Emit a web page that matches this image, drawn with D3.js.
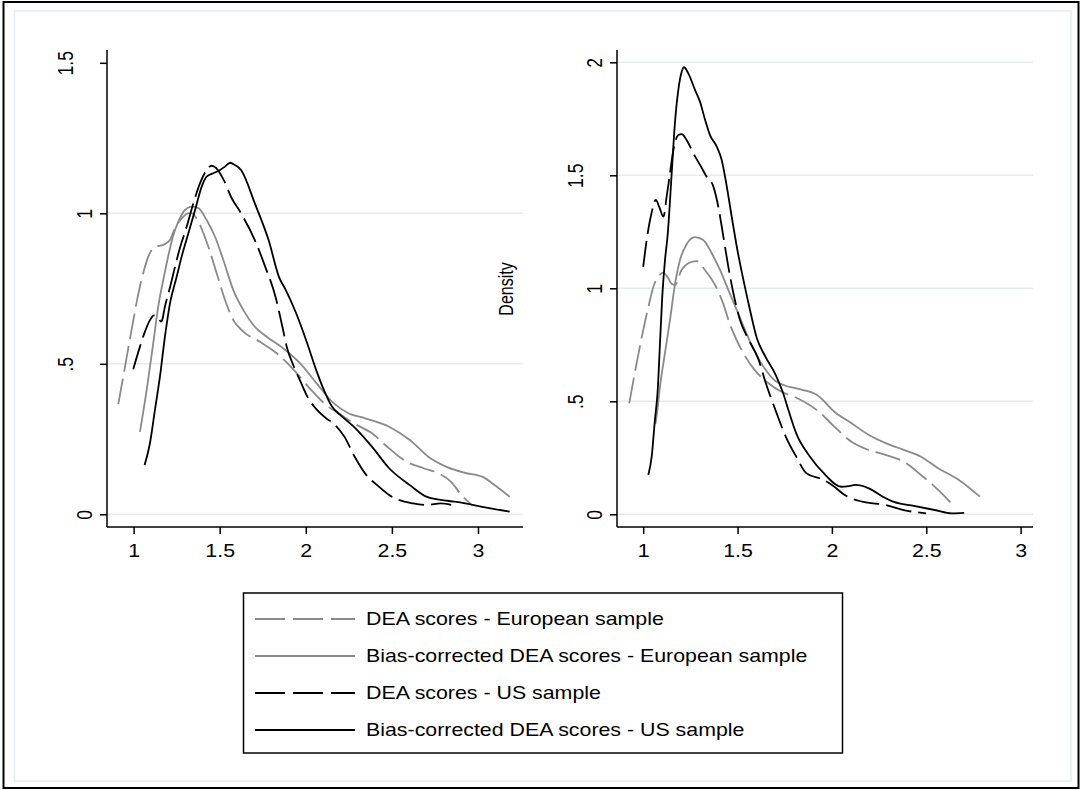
<!DOCTYPE html>
<html>
<head>
<meta charset="utf-8">
<script src="https://cdn.jsdelivr.net/npm/d3@7"></script>
<style>
  body { margin: 0; background: #fff; }
  svg { display: block; }
  text { font-family: "Liberation Sans", Arial, sans-serif; fill: #000; }
</style>
</head>
<body>
<svg id="chart" width="1083" height="790"></svg>
<script>
// ticks
var xTicks = [1, 1.5, 2, 2.5, 3];
var yTicksL = [0, 0.5, 1, 1.5];
var yTicksR = [0, 0.5, 1, 1.5, 2];
var gridL = [0, 0.5, 1];
var gridR = [0, 0.5, 1, 1.5, 2];

var seriesNames = ["DEA scores - European sample",
                   "Bias-corrected DEA scores - European sample",
                   "DEA scores - US sample",
                   "Bias-corrected DEA scores - US sample"];

// left panel: [score, density]
var euDeaL = [[0.911,0.366],[0.95,0.49],[0.989,0.615],[1.028,0.734],[1.06,0.81],[1.085,0.856],[1.11,0.882],[1.13,0.889],[1.172,0.895],[1.211,0.911],[1.24,0.95],[1.279,0.983],[1.318,1.0],[1.34,1.0],[1.357,0.99],[1.386,0.961],[1.434,0.889],[1.483,0.80],[1.531,0.712],[1.579,0.645],[1.637,0.607],[1.734,0.573],[1.831,0.535],[1.93,0.48],[2.02,0.42],[2.12,0.362],[2.2,0.332],[2.28,0.302],[2.384,0.269],[2.484,0.219],[2.584,0.175],[2.684,0.153],[2.764,0.138],[2.844,0.108],[2.904,0.064],[2.964,0.031]];
var euBcL = [[1.037,0.274],[1.076,0.413],[1.114,0.568],[1.143,0.69],[1.172,0.778],[1.2,0.855],[1.231,0.928],[1.26,0.972],[1.298,1.011],[1.337,1.022],[1.376,1.017],[1.424,0.978],[1.473,0.922],[1.521,0.845],[1.579,0.745],[1.637,0.679],[1.695,0.629],[1.773,0.59],[1.87,0.551],[1.966,0.502],[2.063,0.435],[2.16,0.37],[2.25,0.335],[2.344,0.319],[2.484,0.291],[2.604,0.247],[2.724,0.186],[2.824,0.156],[2.924,0.138],[3.024,0.125],[3.104,0.094],[3.184,0.058]];
var usDeaL = [[0.998,0.482],[1.037,0.557],[1.066,0.607],[1.095,0.645],[1.118,0.661],[1.143,0.654],[1.159,0.64],[1.166,0.645],[1.18,0.685],[1.215,0.762],[1.231,0.80],[1.269,0.885],[1.308,0.955],[1.347,1.033],[1.386,1.10],[1.424,1.144],[1.453,1.158],[1.48,1.15],[1.505,1.13],[1.524,1.11],[1.57,1.05],[1.624,1.0],[1.704,0.911],[1.764,0.823],[1.824,0.723],[1.864,0.623],[1.89,0.555],[1.924,0.50],[1.97,0.44],[2.01,0.39],[2.06,0.35],[2.12,0.318],[2.164,0.30],[2.224,0.258],[2.284,0.191],[2.344,0.136],[2.424,0.092],[2.484,0.064],[2.624,0.036],[2.704,0.031],[2.784,0.036],[2.844,0.031]];
var usBcL = [[1.064,0.164],[1.095,0.236],[1.124,0.347],[1.153,0.457],[1.182,0.59],[1.211,0.70],[1.25,0.789],[1.279,0.856],[1.318,0.934],[1.357,1.011],[1.395,1.088],[1.424,1.122],[1.463,1.133],[1.502,1.144],[1.531,1.155],[1.56,1.168],[1.59,1.16],[1.624,1.144],[1.704,1.033],[1.784,0.911],[1.844,0.789],[1.884,0.745],[1.944,0.668],[2.004,0.575],[2.06,0.48],[2.1,0.42],[2.15,0.36],[2.2,0.33],[2.29,0.285],[2.384,0.225],[2.484,0.153],[2.604,0.097],[2.704,0.058],[2.824,0.045],[2.904,0.039],[3.024,0.025],[3.184,0.009]];

// right panel: [score, density]
var euDeaR = [[0.926,0.491],[0.965,0.668],[1.0,0.815],[1.036,0.948],[1.054,1.007],[1.08,1.051],[1.106,1.069],[1.133,1.044],[1.15,1.02],[1.168,1.015],[1.203,1.081],[1.239,1.111],[1.283,1.12],[1.327,1.081],[1.39,1.0],[1.425,0.93],[1.46,0.84],[1.496,0.77],[1.54,0.70],[1.591,0.638],[1.664,0.58],[1.738,0.54],[1.8,0.52],[1.848,0.50],[1.921,0.461],[2.013,0.388],[2.104,0.321],[2.196,0.284],[2.288,0.262],[2.38,0.233],[2.472,0.174],[2.563,0.108],[2.646,0.037]];
var euBcR = [[1.065,0.40],[1.075,0.46],[1.089,0.565],[1.115,0.712],[1.142,0.86],[1.168,1.015],[1.195,1.125],[1.23,1.195],[1.274,1.226],[1.318,1.214],[1.363,1.155],[1.407,1.081],[1.451,0.993],[1.496,0.904],[1.54,0.815],[1.591,0.72],[1.64,0.65],[1.701,0.59],[1.75,0.57],[1.811,0.557],[1.921,0.528],[2.013,0.454],[2.104,0.403],[2.196,0.351],[2.288,0.314],[2.38,0.285],[2.472,0.255],[2.563,0.204],[2.673,0.152],[2.784,0.078]];
var usDeaR = [[1.0,1.095],[1.021,1.228],[1.044,1.332],[1.067,1.391],[1.085,1.36],[1.107,1.317],[1.125,1.41],[1.142,1.509],[1.16,1.612],[1.186,1.678],[1.204,1.682],[1.23,1.656],[1.266,1.597],[1.301,1.546],[1.336,1.494],[1.372,1.45],[1.398,1.361],[1.425,1.228],[1.451,1.096],[1.478,0.978],[1.513,0.86],[1.554,0.78],[1.609,0.69],[1.65,0.58],[1.701,0.461],[1.756,0.343],[1.811,0.255],[1.866,0.181],[1.958,0.152],[2.013,0.122],[2.068,0.085],[2.16,0.056],[2.288,0.041],[2.38,0.019],[2.499,0.004]];
var usBcR = [[1.027,0.174],[1.045,0.255],[1.062,0.417],[1.077,0.55],[1.089,0.757],[1.101,0.963],[1.115,1.12],[1.13,1.24],[1.151,1.509],[1.168,1.73],[1.186,1.877],[1.204,1.958],[1.216,1.978],[1.239,1.951],[1.275,1.877],[1.301,1.826],[1.328,1.745],[1.354,1.678],[1.39,1.627],[1.416,1.568],[1.443,1.45],[1.469,1.317],[1.496,1.184],[1.531,1.037],[1.566,0.904],[1.602,0.78],[1.646,0.70],[1.70,0.62],[1.74,0.54],[1.77,0.46],[1.811,0.358],[1.884,0.255],[1.958,0.181],[2.049,0.122],[2.09,0.125],[2.123,0.13],[2.196,0.115],[2.27,0.078],[2.325,0.056],[2.435,0.037],[2.545,0.019],[2.636,0.004],[2.701,0.006]];

// styles
var colors = ["#8a8a8a", "#8a8a8a", "#000", "#000"];
var dashes = ["26,7", null, "26,7", null];
var legendDashes = ["30,8", null, "30,8", null];
var stretch = 1.22;   // text in the source is wider than tall
var fontSize = 17.5;

var svg = d3.select("#chart");

// outer frame + graph region outline
svg.append("rect").attr("x", 3.5).attr("y", 2).attr("width", 1075).attr("height", 786)
   .attr("fill", "#fff").attr("stroke", "#000").attr("stroke-width", 2);
svg.append("rect").attr("x", 14.5).attr("y", 11).attr("width", 1056.5).attr("height", 770)
   .attr("fill", "none").attr("stroke", "#e4ecef").attr("stroke-width", 1.5);

var fmt = function(d) { return d3.format("~g")(d).replace(/^0\./, "."); };

var panels = [
  {series: [euDeaL, euBcL, usDeaL, usBcL], yTicks: yTicksL, grid: gridL, yMax: 1.5,
   box: {l: 107, r: 523, t: 50, b: 527}, xr: [133.6, 478], yr: [514.3, 62.8]},
  {series: [euDeaR, euBcR, usDeaR, usBcR], yTicks: yTicksR, grid: gridR, yMax: 2,
   box: {l: 617, r: 1033, t: 50, b: 527}, xr: [643.2, 1020.6], yr: [514.3, 62.3]}
];

panels.forEach(function(p) {
  var x = d3.scaleLinear().domain([1, 3]).range(p.xr);
  var y = d3.scaleLinear().domain([0, p.yMax]).range(p.yr);
  var g = svg.append("g");

  // gridlines
  g.selectAll(".grid").data(p.grid).enter().append("line")
    .attr("x1", p.box.l).attr("x2", p.box.r)
    .attr("y1", function(d) { return y(d); }).attr("y2", function(d) { return y(d); })
    .attr("stroke", "#e4ecef").attr("stroke-width", 1.5);

  // density curves
  var line = d3.line()
    .x(function(d) { return x(d[0]); })
    .y(function(d) { return y(d[1]); })
    .curve(d3.curveMonotoneX);
  g.selectAll(".curve").data(p.series).enter().append("path")
    .attr("d", line)
    .attr("fill", "none")
    .attr("stroke", function(d, i) { return colors[i]; })
    .attr("stroke-width", 1.8)
    .attr("stroke-dasharray", function(d, i) { return dashes[i]; });

  // x axis
  var xa = g.append("g").attr("transform", "translate(0," + p.box.b + ")")
    .call(d3.axisBottom(x).tickValues(xTicks).tickSize(7).tickSizeOuter(0).tickFormat(fmt));
  xa.select(".domain").remove();
  xa.selectAll(".tick line").attr("stroke", "#000").attr("stroke-width", 1.5);
  xa.selectAll(".tick text")
    .attr("y", 30).attr("dy", 0)
    .attr("font-size", fontSize)
    .attr("transform", "scale(" + stretch + ",1)");

  // y axis
  var ya = g.append("g").attr("transform", "translate(" + p.box.l + ",0)")
    .call(d3.axisLeft(y).tickValues(p.yTicks).tickSize(7).tickSizeOuter(0).tickFormat(fmt));
  ya.select(".domain").remove();
  ya.selectAll(".tick line").attr("stroke", "#000").attr("stroke-width", 1.5);
  ya.selectAll(".tick text")
    .attr("x", 0).attr("y", 0).attr("dy", "0.36em")
    .attr("text-anchor", "middle")
    .attr("font-size", fontSize)
    .attr("transform", function(d) {
      var off = fmt(d).indexOf(".") >= 0 ? 42 : 23;
      return "translate(" + (-off) + ",0) scale(" + stretch + ",1) rotate(-90)";
    });

  // axis lines
  g.append("line").attr("x1", p.box.l).attr("x2", p.box.l).attr("y1", p.box.t).attr("y2", p.box.b)
    .attr("stroke", "#000").attr("stroke-width", 1.5);
  g.append("line").attr("x1", p.box.l).attr("x2", p.box.r).attr("y1", p.box.b).attr("y2", p.box.b)
    .attr("stroke", "#000").attr("stroke-width", 1.5);
});

// y title of the right panel (Stata puts it over the left plot)
svg.append("text")
  .attr("text-anchor", "middle").attr("dy", "0.36em")
  .attr("font-size", 16)
  .attr("transform", "translate(506,289) scale(" + stretch + ",1) rotate(-90)")
  .text("Density");

// legend
var legend = svg.append("g");
legend.append("rect").attr("x", 243.5).attr("y", 593).attr("width", 599).attr("height", 160)
  .attr("fill", "#fff").attr("stroke", "#000").attr("stroke-width", 1.5);
var item = legend.selectAll(".item").data(seriesNames).enter().append("g")
  .attr("transform", function(d, i) { return "translate(0," + (619 + i * 37) + ")"; });
item.append("line").attr("x1", 255).attr("x2", 355).attr("y1", 0).attr("y2", 0)
  .attr("stroke", function(d, i) { return colors[i]; })
  .attr("stroke-width", 2)
  .attr("stroke-dasharray", function(d, i) { return legendDashes[i]; });
item.append("text")
  .attr("dy", "0.36em").attr("font-size", fontSize)
  .attr("transform", "translate(366,0) scale(" + stretch + ",1)")
  .text(function(d) { return d; });
</script>
</body>
</html>
